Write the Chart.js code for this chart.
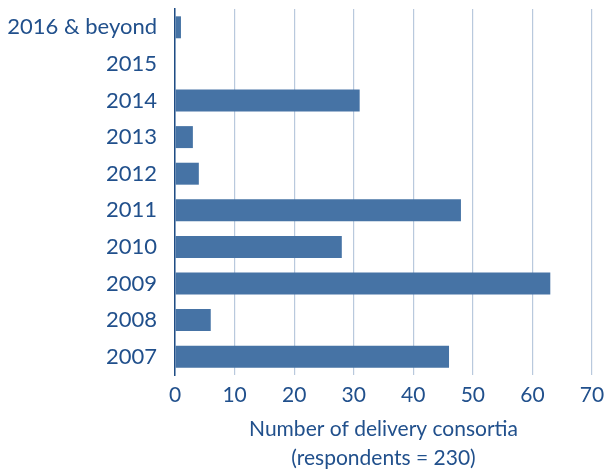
<!DOCTYPE html>
<html>
<head>
<meta charset="utf-8">
<script src="https://cdn.jsdelivr.net/npm/chart.js@4/dist/chart.umd.min.js"></script>
<style>
  body { margin: 0; background: #fff; }
  #wrap { width: 606px; height: 470px; }
</style>
</head>
<body>
<div id="wrap"><canvas id="grafico"></canvas></div>
<script>
// consortia counts by start year (top to bottom)
var anos = ['2016 & beyond', '2015', '2014', '2013', '2012', '2011', '2010', '2009', '2008', '2007'];
var consorcios = [1, 0, 31, 3, 4, 48, 28, 63, 6, 46];
var ticksX = [0, 10, 20, 30, 40, 50, 60, 70];

var azul = '#4673a5';
var texto = '#21508c';
var fonte = 'Lato, "Noto Sans", sans-serif';

var ctx = document.getElementById('grafico').getContext('2d');
var grafico = new Chart(ctx, {
    type: 'bar',
    data: {
        labels: anos,
        datasets: [{
            label: 'Number of delivery consortia',
            data: consorcios,
            backgroundColor: azul,
            borderWidth: 0,
            barPercentage: 0.6,
            categoryPercentage: 1
        }]
    },
    options: {
        indexAxis: 'y',
        responsive: true,
        maintainAspectRatio: false,
        animation: false,
        layout: { padding: { top: 9, right: 14, left: 7, bottom: 0 } },
        plugins: {
            legend: { display: false },
            tooltip: { enabled: false }
        },
        scales: {
            x: {
                min: 0,
                max: 70,
                afterBuildTicks: function (eixo) {
                    eixo.ticks = ticksX.map(function (v) { return { value: v }; });
                },
                afterFit: function (eixo) {
                    eixo.height = 95;
                    eixo.paddingLeft = 0;
                    eixo.paddingRight = 0;
                },
                grid: { color: '#b9c9dd', lineWidth: 1.2, drawTicks: false },
                border: { display: false },
                ticks: { color: texto, padding: 8, font: { family: fonte, size: 21 } },
                title: {
                    display: true,
                    text: ['Number of delivery consortia', '(respondents = 230)'],
                    color: texto,
                    font: { family: fonte, size: 21, lineHeight: 1.4 },
                    padding: { top: 14, bottom: -3 }
                }
            },
            y: {
                afterFit: function (eixo) {
                    // labels only need room on the left, not above/below
                    eixo.width = 168;
                    eixo.paddingTop = 0;
                    eixo.paddingBottom = 0;
                },
                grid: { display: false, drawTicks: false },
                border: { display: true, color: '#1f4c84', width: 1.5 },
                ticks: { color: texto, padding: 18, font: { family: fonte, size: 22 } }
            }
        }
    }
});
</script>
</body>
</html>
